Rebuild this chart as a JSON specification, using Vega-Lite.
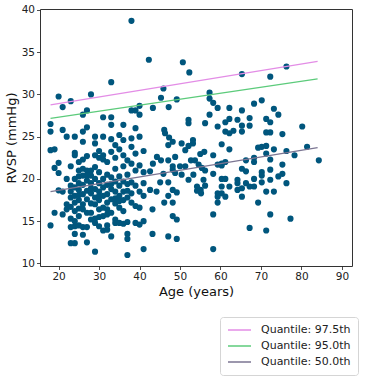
{
"$schema": "https://vega.github.io/schema/vega-lite/v6.json",
"width": 312, "height": 257,
"autosize": "none",
"padding": {"left": 40, "top": 9, "right": 17, "bottom": 111},
"background": "white",
"config": {
 "font": "DejaVu Sans",
 "view": {"stroke": "#333", "strokeWidth": 1},
 "axis": {"grid": false, "domain": false, "tickColor": "#222", "tickSize": 3.5, "tickWidth": 0.8, "labelFontSize": 10.5, "labelColor": "#222", "labelPadding": 2, "titleFontSize": 13, "titleFontWeight": "normal", "titleColor": "#111"}
},
"datasets": {
 "pts": [
{"a":18,"r":26.5},{"a":18,"r":25.6},{"a":18,"r":23.4},{"a":18,"r":14.5},
{"a":19,"r":23.5},{"a":19,"r":21.3},{"a":19,"r":16.0},
{"a":20,"r":29.75},{"a":20,"r":21.9},{"a":20,"r":20.7},{"a":20,"r":18.65},
{"a":21,"r":28.5},{"a":21,"r":25.8},{"a":21,"r":18.5},{"a":21,"r":15.8},
{"a":22,"r":25.0},{"a":22,"r":20.0},{"a":22,"r":17.0},{"a":22,"r":16.4},
{"a":23,"r":29.2},{"a":23,"r":21.5},{"a":23,"r":19.2},{"a":23,"r":18.5},{"a":23,"r":16.7},{"a":23,"r":15.3},{"a":23,"r":14.3},{"a":23,"r":12.4},{"a":23,"r":17.8},
{"a":24,"r":25.0},{"a":24,"r":23.1},{"a":24,"r":22.8},{"a":24,"r":20.0},{"a":24,"r":19.0},{"a":24,"r":18.0},{"a":24,"r":17.2},{"a":24,"r":16.2},{"a":24,"r":15.0},{"a":24,"r":13.5},{"a":24,"r":12.4},{"a":24,"r":14.4},
{"a":25,"r":22.0},{"a":25,"r":21.0},{"a":25,"r":20.3},{"a":25,"r":19.5},{"a":25,"r":18.7},{"a":25,"r":17.5},{"a":25,"r":16.5},{"a":25,"r":15.6},{"a":25,"r":14.5},{"a":25,"r":18.1},
{"a":26,"r":27.6},{"a":26,"r":25.6},{"a":26,"r":24.4},{"a":26,"r":21.2},{"a":26,"r":20.4},{"a":26,"r":19.3},{"a":26,"r":18.2},{"a":26,"r":17.0},{"a":26,"r":16.4},{"a":26,"r":14.3},{"a":26,"r":13.4},{"a":26,"r":22.3},
{"a":27,"r":28.1},{"a":27,"r":26.1},{"a":27,"r":22.7},{"a":27,"r":21.0},{"a":27,"r":19.8},{"a":27,"r":18.6},{"a":27,"r":17.6},{"a":27,"r":16.0},{"a":27,"r":14.3},{"a":27,"r":12.5},{"a":27,"r":20.4},
{"a":28,"r":30.0},{"a":28,"r":21.0},{"a":28,"r":20.4},{"a":28,"r":19.5},{"a":28,"r":18.3},{"a":28,"r":17.1},{"a":28,"r":16.0},{"a":28,"r":15.2},{"a":28,"r":18.9},
{"a":29,"r":25.0},{"a":29,"r":22.8},{"a":29,"r":21.4},{"a":29,"r":20.0},{"a":29,"r":18.8},{"a":29,"r":17.8},{"a":29,"r":17.0},{"a":29,"r":15.3},{"a":29,"r":14.8},{"a":29,"r":11.4},{"a":29,"r":24.2},
{"a":30,"r":22.5},{"a":30,"r":20.8},{"a":30,"r":19.5},{"a":30,"r":18.5},{"a":30,"r":17.5},{"a":30,"r":16.4},{"a":30,"r":15.5},{"a":30,"r":14.4},{"a":30,"r":23.3},{"a":30,"r":18.0},
{"a":31,"r":27.3},{"a":31,"r":25.0},{"a":31,"r":22.8},{"a":31,"r":22.3},{"a":31,"r":20.0},{"a":31,"r":19.0},{"a":31,"r":18.0},{"a":31,"r":16.6},{"a":31,"r":15.6},{"a":31,"r":13.9},
{"a":32,"r":22.0},{"a":32,"r":20.5},{"a":32,"r":19.3},{"a":32,"r":18.2},{"a":32,"r":17.2},{"a":32,"r":15.8},{"a":32,"r":14.5},{"a":32,"r":14.0},{"a":32,"r":16.4},
{"a":33,"r":31.45},{"a":33,"r":27.3},{"a":33,"r":26.4},{"a":33,"r":24.7},{"a":33,"r":23.2},{"a":33,"r":20.2},{"a":33,"r":18.8},{"a":33,"r":17.6},{"a":33,"r":16.0},{"a":33,"r":13.2},{"a":33,"r":19.4},
{"a":34,"r":24.0},{"a":34,"r":22.5},{"a":34,"r":21.2},{"a":34,"r":19.7},{"a":34,"r":18.5},{"a":34,"r":17.1},{"a":34,"r":15.2},{"a":34,"r":14.8},{"a":34,"r":17.7},
{"a":35,"r":25.2},{"a":35,"r":23.5},{"a":35,"r":20.3},{"a":35,"r":19.2},{"a":35,"r":18.0},{"a":35,"r":16.6},{"a":35,"r":14.8},{"a":35,"r":17.4},
{"a":36,"r":26.4},{"a":36,"r":24.6},{"a":36,"r":22.8},{"a":36,"r":21.5},{"a":36,"r":19.7},{"a":36,"r":18.5},{"a":36,"r":17.5},{"a":36,"r":16.2},{"a":36,"r":14.7},
{"a":37,"r":22.2},{"a":37,"r":20.5},{"a":37,"r":19.4},{"a":37,"r":17.8},{"a":37,"r":14.9},{"a":37,"r":13.5},{"a":37,"r":12.9},{"a":37,"r":11.0},{"a":37,"r":18.6},
{"a":38,"r":38.7},{"a":38,"r":28.1},{"a":38,"r":24.8},{"a":38,"r":23.8},{"a":38,"r":21.8},{"a":38,"r":19.6},{"a":38,"r":18.3},{"a":38,"r":17.2},
{"a":39,"r":28.1},{"a":39,"r":26.0},{"a":39,"r":23.0},{"a":39,"r":21.0},{"a":39,"r":19.2},{"a":39,"r":16.8},{"a":39,"r":14.8},
{"a":40,"r":28.65},{"a":40,"r":27.6},{"a":40,"r":25.0},{"a":40,"r":21.6},{"a":40,"r":18.5},{"a":40,"r":16.6},{"a":40,"r":14.6},
{"a":41,"r":23.3},{"a":41,"r":20.8},{"a":41,"r":19.5},{"a":41,"r":18.0},{"a":41,"r":15.0},{"a":41,"r":11.7},
{"a":42.3,"r":34.1},{"a":43.3,"r":28.4},{"a":45.3,"r":29.6},{"a":45.9,"r":30.7},{"a":47.2,"r":28.5},{"a":49.2,"r":29.4},{"a":50.7,"r":33.8},
{"a":46.1,"r":25.8},{"a":46.3,"r":25.4},{"a":47.3,"r":24.9},{"a":48.2,"r":24.4},{"a":47.1,"r":24.0},{"a":50.4,"r":24.2},{"a":52.1,"r":23.9},{"a":53.2,"r":24.2},
{"a":55.0,"r":22.95},{"a":56.0,"r":23.2},{"a":44.3,"r":22.6},{"a":45.3,"r":22.2},{"a":47.1,"r":22.2},{"a":48.8,"r":22.6},{"a":43.3,"r":21.8},{"a":48.2,"r":21.5},
{"a":48.2,"r":21.1},{"a":50.0,"r":21.5},{"a":51.3,"r":21.5},{"a":52.7,"r":22.2},{"a":53.7,"r":22.2},{"a":54.6,"r":21.7},{"a":55.4,"r":21.3},{"a":42.6,"r":20.9},
{"a":45.9,"r":20.6},{"a":48.8,"r":20.7},{"a":50.4,"r":20.5},{"a":53.3,"r":20.5},{"a":56.2,"r":21.0},{"a":45.1,"r":19.6},{"a":47.1,"r":19.6},{"a":52.1,"r":19.9},
{"a":55.8,"r":19.9},{"a":42.6,"r":18.7},{"a":44.2,"r":18.5},{"a":47.1,"r":18.0},{"a":48.2,"r":18.7},{"a":49.2,"r":18.4},{"a":46.1,"r":17.2},{"a":48.2,"r":17.2},
{"a":43.2,"r":16.4},{"a":48.2,"r":15.6},{"a":49.2,"r":15.2},{"a":43.2,"r":13.5},{"a":47.1,"r":13.2},{"a":49.2,"r":12.9},{"a":54.2,"r":19.1},{"a":55.1,"r":18.7},
{"a":56.2,"r":19.2},{"a":52.1,"r":27.0},{"a":52.1,"r":26.6},{"a":56.2,"r":26.6},{"a":52.3,"r":32.6},{"a":57.3,"r":30.2},{"a":57.3,"r":29.5},{"a":57.3,"r":27.6},
{"a":53.2,"r":24.6},{"a":54.2,"r":18.6},{"a":55.2,"r":18.3},{"a":51.3,"r":23.4},
{"a":58.2,"r":29.0},{"a":58.2,"r":22.8},{"a":58.2,"r":20.6},{"a":58.2,"r":15.8},{"a":58.2,"r":11.7},
{"a":59.3,"r":28.4},{"a":59.3,"r":26.2},{"a":59.3,"r":21.7},{"a":59.3,"r":18.3},{"a":59.3,"r":17.9},{"a":59.3,"r":17.2},
{"a":60.3,"r":24.1},{"a":60.3,"r":21.8},{"a":60.3,"r":21.6},{"a":60.3,"r":20.0},{"a":60.3,"r":19.1},{"a":60.3,"r":18.3},
{"a":61.2,"r":26.7},{"a":61.2,"r":25.6},{"a":61.2,"r":22.0},{"a":61.2,"r":20.0},{"a":61.2,"r":17.9},
{"a":62.2,"r":28.4},{"a":62.2,"r":27.1},{"a":62.2,"r":25.4},{"a":62.2,"r":23.5},{"a":62.2,"r":19.1},
{"a":63.2,"r":25.7},
{"a":64.2,"r":27.0},{"a":64.2,"r":19.9},{"a":64.2,"r":19.5},{"a":64.2,"r":18.7},
{"a":65.3,"r":32.4},{"a":65.3,"r":28.1},{"a":65.3,"r":26.3},{"a":65.3,"r":25.6},{"a":65.3,"r":21.2},{"a":65.3,"r":18.9},{"a":65.3,"r":17.9},
{"a":66.3,"r":22.2},{"a":66.3,"r":20.9},{"a":66.3,"r":19.5},
{"a":67.2,"r":27.2},{"a":67.2,"r":26.3},{"a":67.2,"r":19.1},{"a":67.2,"r":14.2},
{"a":68.3,"r":28.9},{"a":68.3,"r":22.5},{"a":68.3,"r":22.0},{"a":68.3,"r":20.0},{"a":68.3,"r":19.1},
{"a":69.3,"r":23.7},{"a":69.3,"r":17.2},
{"a":70.2,"r":29.3},{"a":70.2,"r":23.8},{"a":70.2,"r":20.8},{"a":70.2,"r":20.4},{"a":70.2,"r":19.6},
{"a":71.3,"r":27.1},{"a":71.3,"r":25.5},{"a":71.3,"r":23.9},{"a":71.3,"r":23.0},{"a":71.3,"r":18.5},{"a":71.3,"r":13.9},
{"a":72.3,"r":32.1},{"a":72.3,"r":26.7},{"a":72.3,"r":25.5},{"a":72.3,"r":22.3},{"a":72.3,"r":21.1},{"a":72.3,"r":19.9},{"a":72.3,"r":15.8},
{"a":73.2,"r":28.3},{"a":73.2,"r":23.5},{"a":73.2,"r":18.5},
{"a":74.3,"r":27.6},{"a":74.3,"r":20.3},
{"a":75.3,"r":25.3},{"a":75.3,"r":21.7},{"a":75.3,"r":20.6},
{"a":76.3,"r":33.3},{"a":76.3,"r":23.3},{"a":76.3,"r":19.5},
{"a":77.3,"r":15.3},{"a":78.3,"r":22.8},{"a":80.2,"r":26.2},{"a":81.4,"r":23.8},{"a":84.3,"r":22.2}
 ],
 "lines": [
  {"q":"Quantile: 97.5th","a":18,"r":28.77},{"q":"Quantile: 97.5th","a":84,"r":33.9},
  {"q":"Quantile: 95.0th","a":18,"r":27.15},{"q":"Quantile: 95.0th","a":84,"r":31.84},
  {"q":"Quantile: 50.0th","a":18,"r":18.5},{"q":"Quantile: 50.0th","a":84,"r":23.7}
 ]
},
"layer": [
 {
  "data": {"name": "pts"},
  "mark": {"type": "circle", "size": 38, "opacity": 1, "color": "#00567d"},
  "encoding": {
   "x": {"field": "a", "type": "quantitative", "title": "Age (years)", "scale": {"domain": [15.4, 92.5], "nice": false, "zero": false}, "axis": {"values": [20,30,40,50,60,70,80,90], "titlePadding": 3}},
   "y": {"field": "r", "type": "quantitative", "title": "RVSP (mmHg)", "scale": {"domain": [9.7, 40.1], "nice": false, "zero": false}, "axis": {"values": [10,15,20,25,30,35,40], "titlePadding": 3}}
  }
 },
 {
  "data": {"name": "lines"},
  "mark": {"type": "line", "strokeWidth": 1.3},
  "encoding": {
   "x": {"field": "a", "type": "quantitative"},
   "y": {"field": "r", "type": "quantitative"},
   "color": {"field": "q", "type": "nominal",
     "scale": {"domain": ["Quantile: 97.5th","Quantile: 95.0th","Quantile: 50.0th"], "range": ["#e38de6","#5ccb7b","#7b7592"]},
     "legend": {"orient": "none", "legendX": 180, "legendY": 308, "title": null, "symbolType": "stroke", "symbolStrokeWidth": 1.5, "symbolSize": 530, "clipHeight": 12, "rowPadding": 4, "labelFontSize": 11, "labelColor": "#222", "labelOffset": 9, "strokeColor": "#d5d5d5", "fillColor": "white", "padding": 7, "cornerRadius": 3}}
  }
 },
 {
  "mark": {"type": "rule", "color": "black", "strokeWidth": 1.5, "strokeDash": [5, 3]},
  "encoding": {"y": {"datum": 35}}
 }
]
}
